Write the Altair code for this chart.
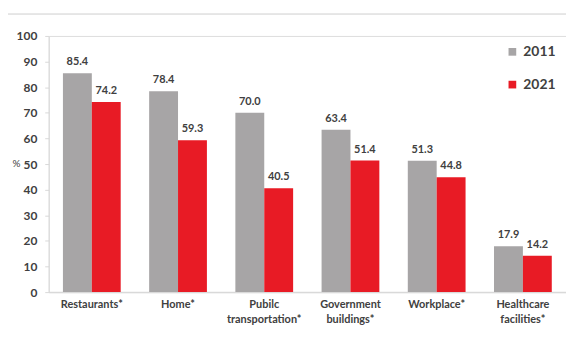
import altair as alt
import pandas as pd

categories = ["Restaurants*", "Home*", "Pubilc\ntransportation*", "Government\nbuildings*", "Workplace*", "Healthcare\nfacilities*"]
years = ["2011", "2021"]
values_2011 = [85.4, 78.4, 70.0, 63.4, 51.3, 17.9]
values_2021 = [74.2, 59.3, 40.5, 51.4, 44.8, 14.2]
y_ticks = [0, 10, 20, 30, 40, 50, 60, 70, 80, 90, 100]

rows = []
for c, a, b in zip(categories, values_2011, values_2021):
    rows.append({"cat": c, "year": "2011", "value": a, "label": f"{a:.1f}"})
    rows.append({"cat": c, "year": "2021", "value": b, "label": f"{b:.1f}"})
df = pd.DataFrame(rows)

FONT = "Lato"
TXT = "#404040"

x_enc = alt.X("cat:N", sort=categories,
              scale=alt.Scale(paddingInner=0.33, paddingOuter=0.165),
              axis=alt.Axis(title=None, labelAngle=0, labelExpr="split(datum.label, '\\n')",
                            labelFont=FONT, labelFontWeight="bold", labelFontSize=11,
                            labelColor=TXT, ticks=False, labelPadding=6,
                            domainColor="#d9d9d9", domainWidth=1.5, labelLineHeight=16,
                            labelOverlap=False))
y_enc = alt.Y("value:Q", scale=alt.Scale(domain=[0, 100]),
              axis=alt.Axis(values=y_ticks, grid=False, title="%",
                            titleAngle=0, titleFont=FONT, titleFontWeight="normal",
                            titleFontSize=10, titleColor=TXT, titleX=-37, titleY=128,
                            titleAlign="left", titleBaseline="middle",
                            labelFont=FONT, labelFontWeight="bold", labelFontSize=12,
                            labelColor=TXT, tickColor="#d9d9d9", tickSize=4,
                            domainColor="#d9d9d9", labelPadding=8, labelOverlap=False))
off = alt.XOffset("year:N", sort=years)

base = alt.Chart(df).encode(x=x_enc, xOffset=off, y=y_enc)

bars = base.mark_bar().encode(
    color=alt.Color("year:N", sort=years,
                    scale=alt.Scale(domain=years, range=["#A7A5A6", "#E81B25"]),
                    legend=alt.Legend(title=None, orient="none", legendX=460, legendY=9,
                                      symbolType="square", symbolSize=60,
                                      labelFont=FONT, labelFontWeight="bold",
                                      labelFontSize=14, labelColor=TXT,
                                      rowPadding=19, symbolStrokeWidth=0)),
)

labels = base.mark_text(baseline="bottom", dy=-6, font=FONT, fontWeight="bold",
                        fontSize=11, color=TXT).encode(text="label:N")

frame_top = alt.Chart(df).mark_rule(color="#e6e6e6").encode(
    x=alt.value(-42), x2=alt.value(540), y=alt.value(-22))
frame_left = alt.Chart(df).mark_rule(color="#e6e6e6").encode(
    x=alt.value(-42), y=alt.value(-22), y2=alt.value(320))

chart = alt.layer(frame_top, frame_left, bars, labels).properties(
    width=521, height=258,
    autosize=alt.AutoSizeParams(type="none"),
    padding={"left": 41, "top": 27, "right": 0, "bottom": 37},
).configure_view(stroke=None).configure(background="white")

chart.save("out.html", embed_options={"renderer": "svg", "actions": False})
